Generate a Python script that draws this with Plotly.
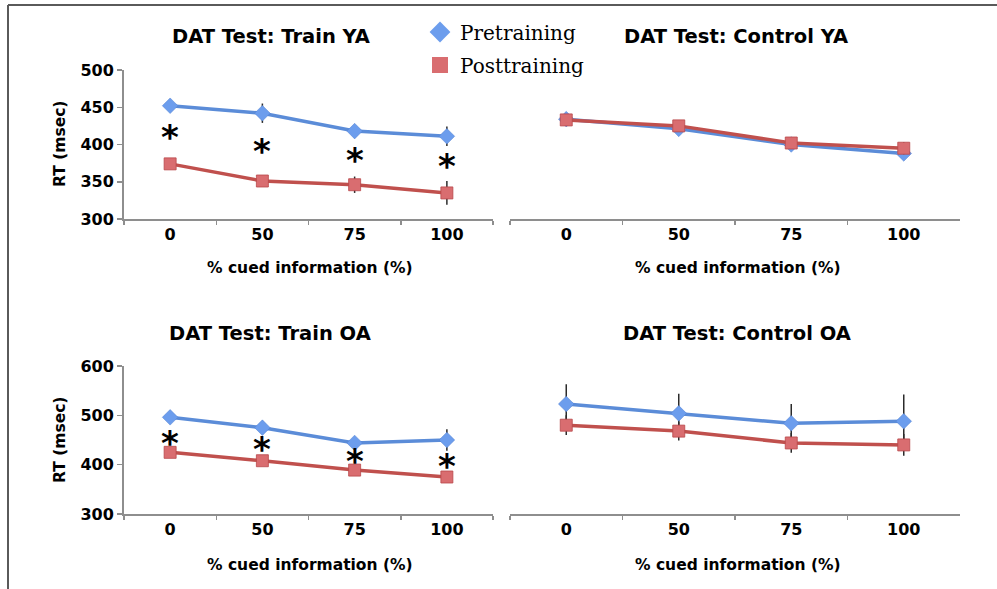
import plotly.graph_objects as go

# ---------------- data ----------------
categories = ["0", "50", "75", "100"]

train_ya_pre = [452, 442, 418, 411]
train_ya_pre_err = [8, 13, 8, 13]
train_ya_post = [374, 351, 346, 335]
train_ya_post_err = [6, 6, 11, 16]

control_ya_pre = [434, 421, 400, 388]
control_ya_pre_err = [7, 7, 8, 8]
control_ya_post = [433, 425, 402, 395]
control_ya_post_err = [7, 7, 8, 8]

train_oa_pre = [496, 475, 444, 450]
train_oa_pre_err = [8, 8, 8, 22]
train_oa_post = [425, 408, 389, 375]
train_oa_post_err = [8, 8, 8, 8]

control_oa_pre = [523, 504, 484, 488]
control_oa_pre_err = [40, 40, 39, 54]
control_oa_post = [480, 468, 444, 440]
control_oa_post_err = [20, 19, 20, 22]

# significance stars (train groups), value at which each star sits
stars_ya_y = [415, 396, 384, 377]
stars_oa_y = [453, 440, 416, 406]

titles = ["DAT Test: Train YA", "DAT Test: Control YA",
          "DAT Test: Train OA", "DAT Test: Control OA"]
x_title = "% cued information (%)"
y_title = "RT (msec)"
series_names = ["Pretraining", "Posttraining"]

# ---------------- style ----------------
W, H = 997, 589
BLUE_LINE = "#5b8cd8"
BLUE_MARK = "#6c9ded"
RED_LINE = "#c0504d"
RED_MARK = "#d96d70"
AXIS = "#8e8e8e"
ERR = "#2b2b2b"
SANS = "DejaVu Sans"


def px_x(p):
    return p / W


def px_y(p):
    return 1 - p / H


fig = go.Figure()

panels = [
    ("x", "y", train_ya_pre, train_ya_pre_err, train_ya_post, train_ya_post_err),
    ("x2", "y2", control_ya_pre, control_ya_pre_err, control_ya_post, control_ya_post_err),
    ("x3", "y3", train_oa_pre, train_oa_pre_err, train_oa_post, train_oa_post_err),
    ("x4", "y4", control_oa_pre, control_oa_pre_err, control_oa_post, control_oa_post_err),
]

for xa, ya, pre, pre_e, post, post_e in panels:
    fig.add_trace(go.Scatter(
        x=categories, y=pre, xaxis=xa, yaxis=ya, mode="lines+markers",
        line=dict(color=BLUE_LINE, width=3.5),
        marker=dict(symbol="diamond", size=12, color=BLUE_MARK,
                    line=dict(color="#4f7fd0", width=0.5)),
        error_y=dict(type="data", array=pre_e, visible=True, color=ERR,
                     thickness=1.5, width=0),
        showlegend=False, name=series_names[0]))
    fig.add_trace(go.Scatter(
        x=categories, y=post, xaxis=xa, yaxis=ya, mode="lines+markers",
        line=dict(color=RED_LINE, width=3.5),
        marker=dict(symbol="square", size=12, color=RED_MARK,
                    line=dict(color="#b9474a", width=0.8)),
        error_y=dict(type="data", array=post_e, visible=True, color=ERR,
                     thickness=1.5, width=0),
        showlegend=False, name=series_names[1]))

# legend-only entries (markers only, as in the reference legend)
fig.add_trace(go.Scatter(x=[None], y=[None], mode="markers", name=series_names[0],
                         marker=dict(symbol="diamond", size=16, color=BLUE_MARK),
                         legendgroup="a"))
fig.add_trace(go.Scatter(x=[None], y=[None], mode="markers", name=series_names[1],
                         marker=dict(symbol="square", size=16, color=RED_MARK),
                         legendgroup="b"))

# stars (x given as category index)
star_font = dict(family=SANS, size=34, color="black", weight="bold")
for i, yv in enumerate(stars_ya_y):
    fig.add_annotation(x=i, y=yv, xref="x", yref="y", text="*", showarrow=False,
                       font=star_font, yanchor="middle", yshift=-4)
for i, yv in enumerate(stars_oa_y):
    fig.add_annotation(x=i, y=yv, xref="x3", yref="y3", text="*", showarrow=False,
                       font=star_font, yanchor="middle", yshift=-4)

# axes
left_dom = [px_x(124), px_x(493)]
right_dom = [px_x(510), px_x(960)]
top_dom = [px_y(219), px_y(70)]
bot_dom = [px_y(514), px_y(366)]

xcommon = dict(type="category", categoryorder="array", categoryarray=categories,
               range=[-0.5, 3.5], tickson="boundaries", showline=True,
               linecolor=AXIS, linewidth=2, ticks="outside", ticklen=4,
               tickwidth=1.5, tickcolor=AXIS, showgrid=False, zeroline=False,
               automargin=False,
               tickfont=dict(family=SANS, size=16, color="black", weight="bold"),
               fixedrange=True)
fig.update_layout(
    xaxis=dict(domain=left_dom, anchor="y", **xcommon),
    xaxis2=dict(domain=right_dom, anchor="y2", **xcommon),
    xaxis3=dict(domain=left_dom, anchor="y3", **xcommon),
    xaxis4=dict(domain=right_dom, anchor="y4", **xcommon),
)

ycommon_vis = dict(showline=True, linecolor=AXIS, linewidth=2, ticks="outside",
                   ticklen=5, tickwidth=1.5, tickcolor=AXIS, showgrid=False,
                   zeroline=False, fixedrange=True, automargin=False,
                   tickfont=dict(family=SANS, size=16, color="black", weight="bold"))
ycommon_hid = dict(showline=False, showticklabels=False, ticks="", showgrid=False,
                   zeroline=False, fixedrange=True, automargin=False)
fig.update_layout(
    yaxis=dict(domain=top_dom, anchor="x", range=[300, 500], dtick=50, **ycommon_vis),
    yaxis2=dict(domain=top_dom, anchor="x2", range=[300, 500], **ycommon_hid),
    yaxis3=dict(domain=bot_dom, anchor="x3", range=[300, 600], dtick=100, **ycommon_vis),
    yaxis4=dict(domain=bot_dom, anchor="x4", range=[300, 600], **ycommon_hid),
)

# titles
title_pos = [(271, 36), (736, 36), (270, 333), (737, 333)]
for t, (xp, yp) in zip(titles, title_pos):
    fig.add_annotation(x=px_x(xp), y=px_y(yp), xref="paper", yref="paper", text=t,
                       showarrow=False, xanchor="center", yanchor="middle",
                       font=dict(family=SANS, size=19.5, color="black", weight="bold"))
for xp, yp in [(310, 268), (738, 268), (310, 565), (738, 565)]:
    fig.add_annotation(x=px_x(xp), y=px_y(yp), xref="paper", yref="paper", text=x_title,
                       showarrow=False, xanchor="center", yanchor="middle",
                       font=dict(family=SANS, size=15.5, color="black", weight="bold"))
for xp, yp in [(60, 144), (60, 440)]:
    fig.add_annotation(x=px_x(xp), y=px_y(yp), xref="paper", yref="paper", text=y_title,
                       showarrow=False, xanchor="center", yanchor="middle", textangle=-90,
                       font=dict(family=SANS, size=15.5, color="black", weight="bold"))

# frame
fig.add_shape(type="line", xref="paper", yref="paper", x0=px_x(8), x1=1.0,
              y0=px_y(5), y1=px_y(5), line=dict(color="#5a5a5a", width=2))
fig.add_shape(type="line", xref="paper", yref="paper", x0=px_x(8), x1=px_x(8),
              y0=px_y(5), y1=0.0, line=dict(color="#5a5a5a", width=2))

fig.update_layout(
    width=W, height=H,
    margin=dict(l=0, r=0, t=0, b=0, pad=0, autoexpand=False),
    paper_bgcolor="white", plot_bgcolor="white",
    showlegend=True, hovermode=False,
    legend=dict(x=px_x(420), y=px_y(12.5), xanchor="left", yanchor="top",
                bgcolor="rgba(0,0,0,0)", tracegroupgap=4,
                font=dict(family="DejaVu Serif", size=20, color="black")),
)

# pin the figure to the top-left corner of the page so it fills the window exactly
post_js = (
    "document.documentElement.style.margin='0';"
    "document.documentElement.style.padding='0';"
    "document.documentElement.style.overflow='hidden';"
    "document.body.style.margin='0';"
    "document.body.style.padding='0';"
    "document.body.style.overflow='hidden';"
    "var gd=document.getElementById('{plot_id}');"
    "gd.style.position='fixed';gd.style.left='0px';gd.style.top='0px';"
)

fig.write_html("out.html", post_script=post_js,
               config={"displayModeBar": False, "staticPlot": True})
